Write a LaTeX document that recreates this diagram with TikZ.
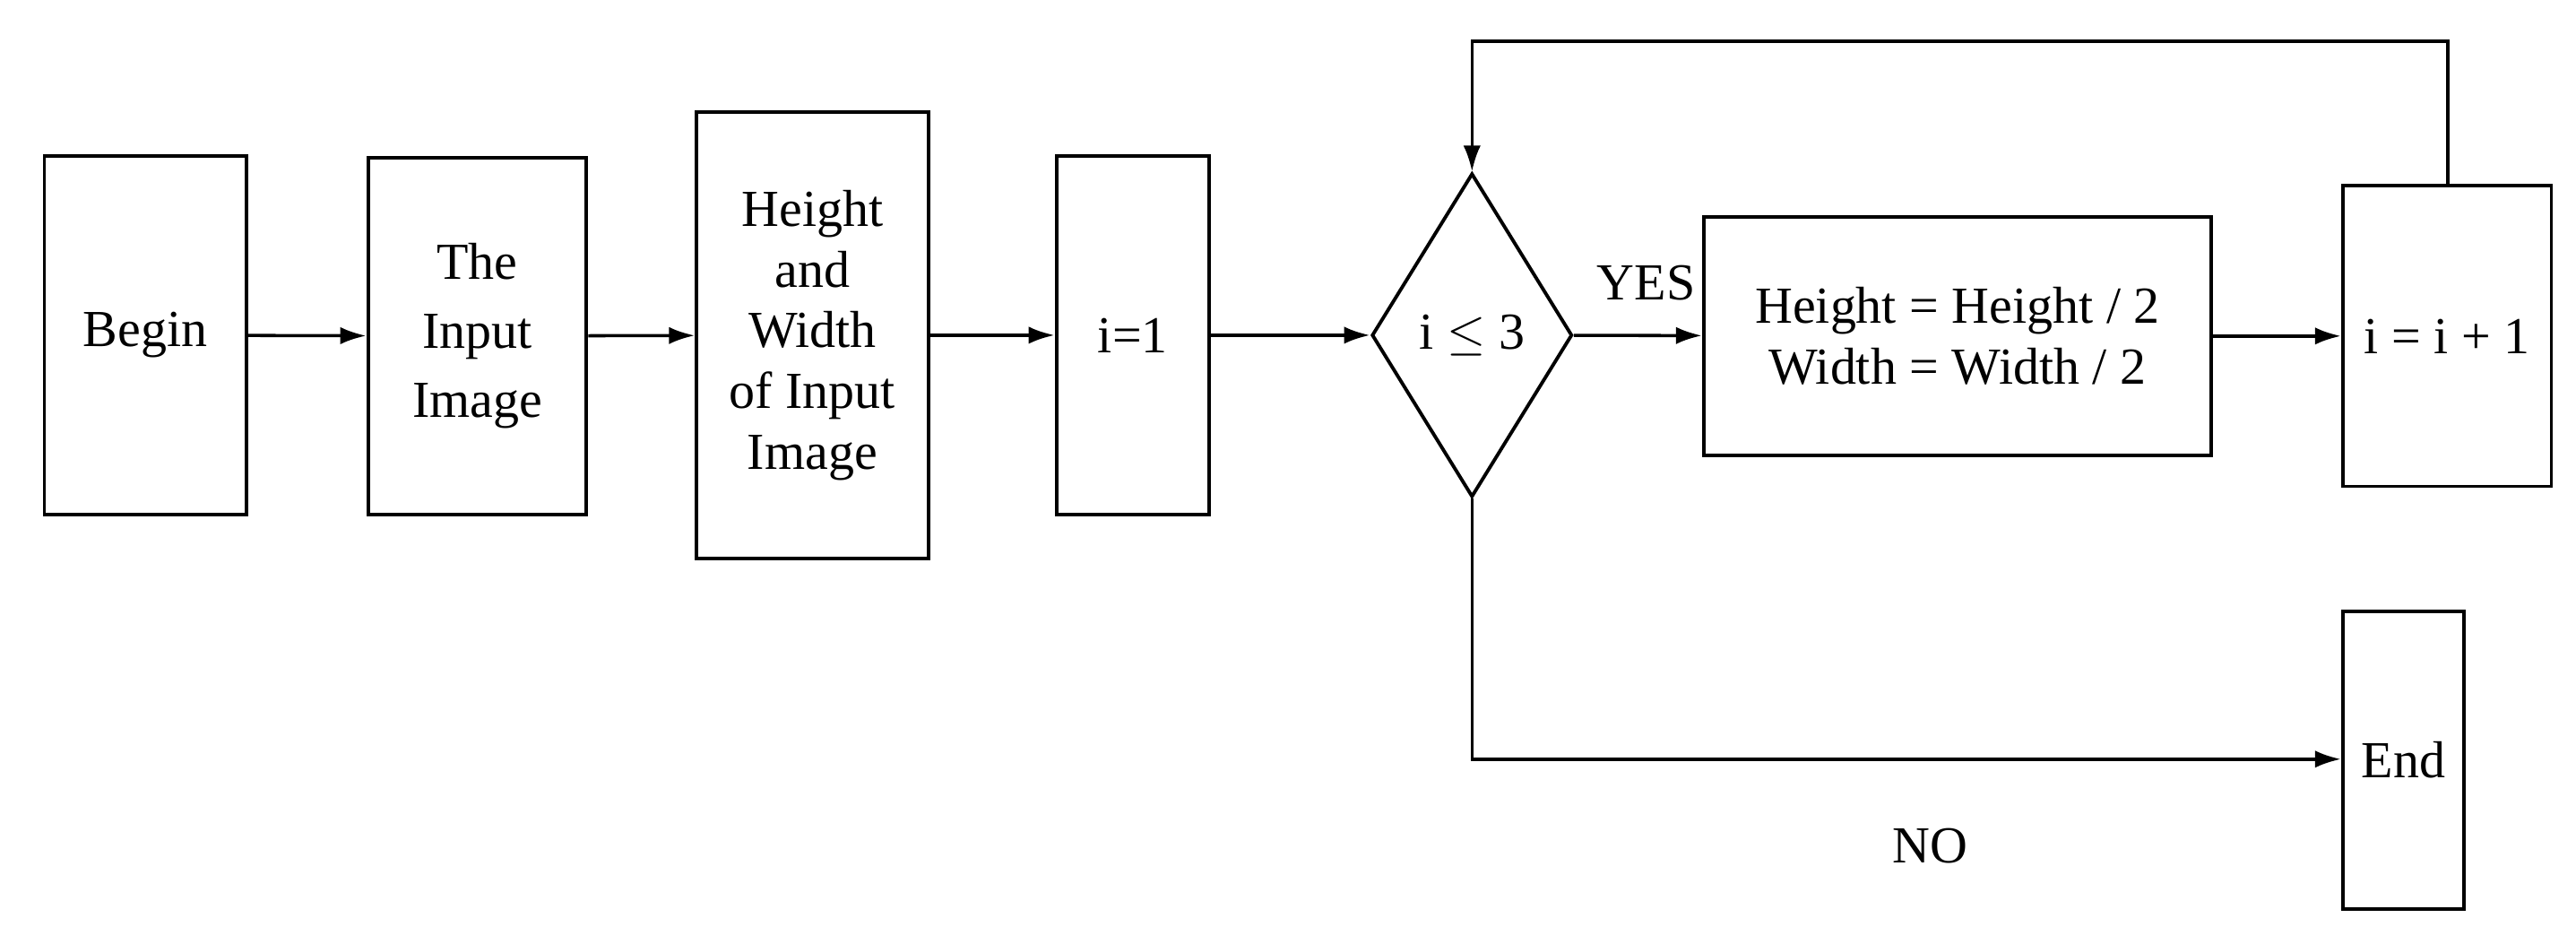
\documentclass[tikz,border=0pt]{standalone}
\usepackage{fontspec}
\setmainfont{Liberation Serif}
\usetikzlibrary{shapes.geometric,arrows.meta}
\begin{document}
\begin{tikzpicture}[x=0.02cm,y=-0.02cm,
  box/.style={draw,line width=1.2pt,inner sep=0pt,align=center,font=\fontsize{18}{21}\selectfont},
  arr/.style={line width=1.1pt,-{Latex[length=9pt,width=6pt]}},
  lab/.style={font=\fontsize{18}{21}\selectfont}]
\useasboundingbox (0,0) rectangle (1568,574);
\node[box,minimum width=2.46cm,minimum height=4.36cm] (begin) at (88.5,204) {Begin};
\node[box,minimum width=2.66cm,minimum height=4.34cm] (inp) at (290.5,204.5) {The\\[3pt]Input\\[3pt]Image};
\node[box,minimum width=2.82cm,minimum height=5.44cm] (hw) at (494.5,204) {Height\\and\\Width\\of Input\\Image};
\node[box,minimum width=1.86cm,minimum height=4.36cm] (i1) at (689.5,204) {i=1};
\node[box,diamond,aspect=0.62,minimum width=2.44cm,minimum height=3.94cm] (dec) at (896,204) {i $\leq$ 3};
\node[box,minimum width=6.18cm,minimum height=2.9cm] (half) at (1191.5,204.5) {Height = Height / 2\\Width = Width / 2};
\node[box,minimum width=2.54cm,minimum height=3.66cm] (inc) at (1489.5,204.5) {i = i + 1};
\node[box,minimum width=1.48cm,minimum height=3.62cm] (end) at (1463,462.5) {End};
\draw[arr] (begin) -- (inp);
\draw[arr] (inp) -- (hw);
\draw[arr] (hw) -- (i1);
\draw[arr] (i1) -- (dec);
\draw[arr] (dec) -- (half);
\draw[arr] (half) -- (inc);
\coordinate (c1) at (1490,25);
\coordinate (c2) at (896,25);
\draw[arr] (inc.north -| c1) -- (c1) -- (c2) -- (dec.north);
\coordinate (c3) at (896,462);
\draw[arr] (dec.south) -- (c3) -- (c3 -| end.west);
\node[lab] (yes) at (1002,172) {YES};
\node[lab] (no) at (1175,515) {NO};
\end{tikzpicture}
\end{document}
